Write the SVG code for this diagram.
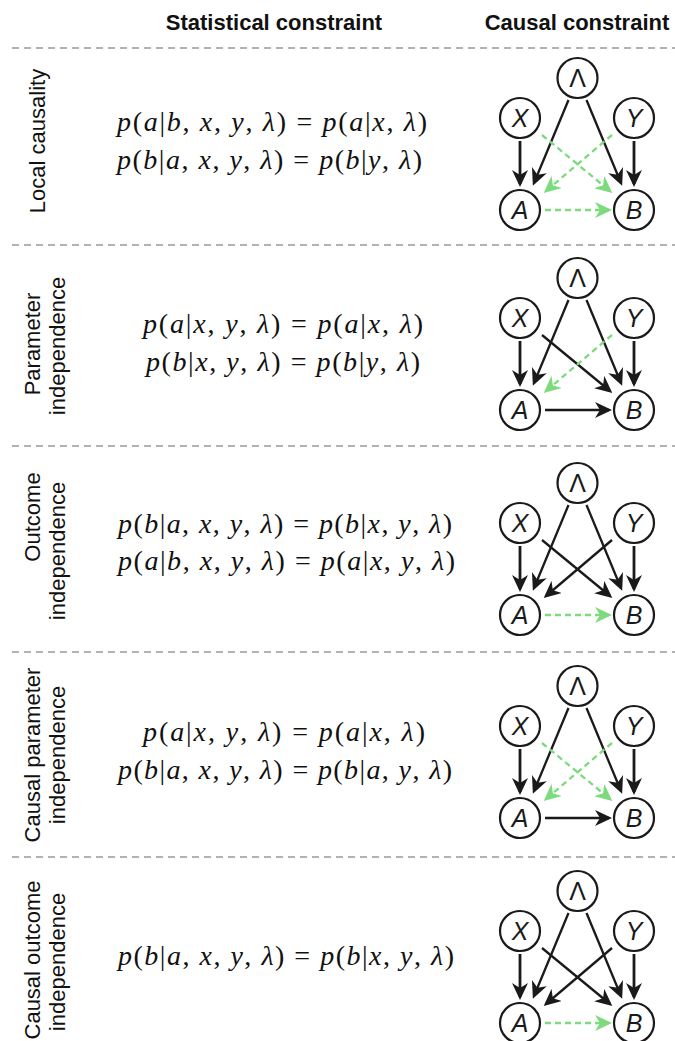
<svg xmlns="http://www.w3.org/2000/svg" width="675" height="1041" viewBox="0 0 675 1041">
<style>
.hd{font-family:"Liberation Sans",Arial,sans-serif;font-weight:bold;font-size:22px;fill:#111;text-anchor:middle}
.lb{font-family:"Liberation Sans",Arial,sans-serif;font-size:22px;fill:#111;text-anchor:middle}
.eq{font-family:"Liberation Serif","Times New Roman",serif;font-size:28px;fill:#111}
.v{font-style:italic}
.sep{stroke:#999;stroke-width:1.3;stroke-dasharray:7 5;fill:none}
.nd circle{fill:#fff;stroke:#1a1a1a;stroke-width:2.2}
.nd text{font-family:"Liberation Sans",Arial,sans-serif;font-size:25px;font-style:italic;fill:#1a1a1a;text-anchor:middle}
.nd text.up{font-style:normal}
.k{stroke:#1a1a1a;stroke-width:2.3;fill:none;marker-end:url(#ak)}
.kv{stroke:#1a1a1a;stroke-width:2.8;fill:none;marker-end:url(#ak)}
.g{stroke:#7ddb7d;stroke-width:2.3;fill:none;stroke-dasharray:6 4;marker-end:url(#ag)}
</style>
<defs>
<marker id="ak" markerUnits="userSpaceOnUse" viewBox="0 0 18 16" markerWidth="18" markerHeight="16" refX="14" refY="8" orient="auto"><path d="M0,0 L17,8 L0,16 L5,8 z" fill="#1a1a1a"/></marker>
<marker id="ag" markerUnits="userSpaceOnUse" viewBox="0 0 18 16" markerWidth="18" markerHeight="16" refX="14" refY="8" orient="auto"><path d="M0,0 L17,8 L0,16 L5,8 z" fill="#7ddb7d"/></marker>
</defs>
<rect width="675" height="1041" fill="#fff"/>

<g id="headers">
<text class="hd" x="274" y="30">Statistical constraint</text>
<text class="hd" x="577" y="30">Causal constraint</text>
</g>

<g id="separators">
<line class="sep" x1="12" y1="48" x2="675" y2="48"/>
<line class="sep" x1="12" y1="245" x2="675" y2="245"/>
<line class="sep" x1="12" y1="446" x2="675" y2="446"/>
<line class="sep" x1="12" y1="652" x2="675" y2="652"/>
<line class="sep" x1="12" y1="857" x2="675" y2="857"/>
</g>

<g id="row-labels">
<text class="lb" transform="translate(45,141) rotate(-90)">Local causality</text>
<text class="lb" transform="translate(40,344) rotate(-90)">Parameter</text>
<text class="lb" transform="translate(65,346) rotate(-90)">independence</text>
<text class="lb" transform="translate(40,517) rotate(-90)">Outcome</text>
<text class="lb" transform="translate(65,551) rotate(-90)">independence</text>
<text class="lb" transform="translate(40,755) rotate(-90)">Causal parameter</text>
<text class="lb" transform="translate(65,755) rotate(-90)">independence</text>
<text class="lb" transform="translate(40,960) rotate(-90)">Causal outcome</text>
<text class="lb" transform="translate(65,962) rotate(-90)">independence</text>
</g>

<g id="equations">
<text class="eq" x="117" y="131" textLength="310" lengthAdjust="spacing"><tspan class="v">p</tspan>(<tspan class="v">a</tspan>|<tspan class="v">b</tspan>, <tspan class="v">x</tspan>, <tspan class="v">y</tspan>, <tspan class="v">λ</tspan>) = <tspan class="v">p</tspan>(<tspan class="v">a</tspan>|<tspan class="v">x</tspan>, <tspan class="v">λ</tspan>)</text>
<text class="eq" x="117" y="169" textLength="305" lengthAdjust="spacing"><tspan class="v">p</tspan>(<tspan class="v">b</tspan>|<tspan class="v">a</tspan>, <tspan class="v">x</tspan>, <tspan class="v">y</tspan>, <tspan class="v">λ</tspan>) = <tspan class="v">p</tspan>(<tspan class="v">b</tspan>|<tspan class="v">y</tspan>, <tspan class="v">λ</tspan>)</text>

<text class="eq" x="143" y="333" textLength="280" lengthAdjust="spacing"><tspan class="v">p</tspan>(<tspan class="v">a</tspan>|<tspan class="v">x</tspan>, <tspan class="v">y</tspan>, <tspan class="v">λ</tspan>) = <tspan class="v">p</tspan>(<tspan class="v">a</tspan>|<tspan class="v">x</tspan>, <tspan class="v">λ</tspan>)</text>
<text class="eq" x="146" y="371" textLength="274" lengthAdjust="spacing"><tspan class="v">p</tspan>(<tspan class="v">b</tspan>|<tspan class="v">x</tspan>, <tspan class="v">y</tspan>, <tspan class="v">λ</tspan>) = <tspan class="v">p</tspan>(<tspan class="v">b</tspan>|<tspan class="v">y</tspan>, <tspan class="v">λ</tspan>)</text>

<text class="eq" x="118" y="533" textLength="334" lengthAdjust="spacing"><tspan class="v">p</tspan>(<tspan class="v">b</tspan>|<tspan class="v">a</tspan>, <tspan class="v">x</tspan>, <tspan class="v">y</tspan>, <tspan class="v">λ</tspan>) = <tspan class="v">p</tspan>(<tspan class="v">b</tspan>|<tspan class="v">x</tspan>, <tspan class="v">y</tspan>, <tspan class="v">λ</tspan>)</text>
<text class="eq" x="118" y="570" textLength="337" lengthAdjust="spacing"><tspan class="v">p</tspan>(<tspan class="v">a</tspan>|<tspan class="v">b</tspan>, <tspan class="v">x</tspan>, <tspan class="v">y</tspan>, <tspan class="v">λ</tspan>) = <tspan class="v">p</tspan>(<tspan class="v">a</tspan>|<tspan class="v">x</tspan>, <tspan class="v">y</tspan>, <tspan class="v">λ</tspan>)</text>

<text class="eq" x="143" y="741" textLength="282" lengthAdjust="spacing"><tspan class="v">p</tspan>(<tspan class="v">a</tspan>|<tspan class="v">x</tspan>, <tspan class="v">y</tspan>, <tspan class="v">λ</tspan>) = <tspan class="v">p</tspan>(<tspan class="v">a</tspan>|<tspan class="v">x</tspan>, <tspan class="v">λ</tspan>)</text>
<text class="eq" x="118" y="779" textLength="334" lengthAdjust="spacing"><tspan class="v">p</tspan>(<tspan class="v">b</tspan>|<tspan class="v">a</tspan>, <tspan class="v">x</tspan>, <tspan class="v">y</tspan>, <tspan class="v">λ</tspan>) = <tspan class="v">p</tspan>(<tspan class="v">b</tspan>|<tspan class="v">a</tspan>, <tspan class="v">y</tspan>, <tspan class="v">λ</tspan>)</text>

<text class="eq" x="118" y="965" textLength="336" lengthAdjust="spacing"><tspan class="v">p</tspan>(<tspan class="v">b</tspan>|<tspan class="v">a</tspan>, <tspan class="v">x</tspan>, <tspan class="v">y</tspan>, <tspan class="v">λ</tspan>) = <tspan class="v">p</tspan>(<tspan class="v">b</tspan>|<tspan class="v">x</tspan>, <tspan class="v">y</tspan>, <tspan class="v">λ</tspan>)</text>
</g>

<g id="connectors">
<g transform="translate(0,0)">
<path class="k" d="M568.5,100 L534,183"/><path class="k" d="M586.5,100 L621,183"/>
<path class="kv" d="M520,141 L520,184"/><path class="kv" d="M634,141 L634,184"/>
<path class="g" d="M542,135 L610,191"/><path class="g" d="M612,135 L546,191"/>
<path class="g" d="M545,210 L609,210"/>
</g>
<g transform="translate(0,200)">
<path class="k" d="M568.5,100 L534,183"/><path class="k" d="M586.5,100 L621,183"/>
<path class="kv" d="M520,141 L520,184"/><path class="kv" d="M634,141 L634,184"/>
<path class="k" d="M542,135 L610,191"/><path class="g" d="M612,135 L546,191"/>
<path class="k" d="M545,210 L609,210"/>
</g>
<g transform="translate(0,405)">
<path class="k" d="M568.5,100 L534,183"/><path class="k" d="M586.5,100 L621,183"/>
<path class="kv" d="M520,141 L520,184"/><path class="kv" d="M634,141 L634,184"/>
<path class="k" d="M542,135 L610,191"/><path class="k" d="M612,135 L546,191"/>
<path class="g" d="M545,210 L609,210"/>
</g>
<g transform="translate(0,608)">
<path class="k" d="M568.5,100 L534,183"/><path class="k" d="M586.5,100 L621,183"/>
<path class="kv" d="M520,141 L520,184"/><path class="kv" d="M634,141 L634,184"/>
<path class="g" d="M542,135 L610,191"/><path class="g" d="M612,135 L546,191"/>
<path class="k" d="M545,210 L609,210"/>
</g>
<g transform="translate(0,813)">
<path class="k" d="M568.5,100 L534,183"/><path class="k" d="M586.5,100 L621,183"/>
<path class="kv" d="M520,141 L520,184"/><path class="kv" d="M634,141 L634,184"/>
<path class="k" d="M542,135 L610,191"/><path class="k" d="M612,135 L546,191"/>
<path class="g" d="M545,210 L609,210"/>
</g>
</g>

<g id="nodes-row1" class="nd">
<g id="r1-Lambda"><circle cx="577.5" cy="78" r="20"/><text class="up" x="577.5" y="87">Λ</text></g>
<g id="r1-X"><circle cx="520" cy="118" r="20"/><text x="520" y="127">X</text></g>
<g id="r1-Y"><circle cx="634" cy="118" r="20"/><text x="634" y="127">Y</text></g>
<g id="r1-A"><circle cx="520" cy="210" r="20"/><text x="520" y="219">A</text></g>
<g id="r1-B"><circle cx="634" cy="210" r="20"/><text x="634" y="219">B</text></g>
</g>
<g id="nodes-row2" class="nd" transform="translate(0,200)">
<g id="r2-Lambda"><circle cx="577.5" cy="78" r="20"/><text class="up" x="577.5" y="87">Λ</text></g>
<g id="r2-X"><circle cx="520" cy="118" r="20"/><text x="520" y="127">X</text></g>
<g id="r2-Y"><circle cx="634" cy="118" r="20"/><text x="634" y="127">Y</text></g>
<g id="r2-A"><circle cx="520" cy="210" r="20"/><text x="520" y="219">A</text></g>
<g id="r2-B"><circle cx="634" cy="210" r="20"/><text x="634" y="219">B</text></g>
</g>
<g id="nodes-row3" class="nd" transform="translate(0,405)">
<g id="r3-Lambda"><circle cx="577.5" cy="78" r="20"/><text class="up" x="577.5" y="87">Λ</text></g>
<g id="r3-X"><circle cx="520" cy="118" r="20"/><text x="520" y="127">X</text></g>
<g id="r3-Y"><circle cx="634" cy="118" r="20"/><text x="634" y="127">Y</text></g>
<g id="r3-A"><circle cx="520" cy="210" r="20"/><text x="520" y="219">A</text></g>
<g id="r3-B"><circle cx="634" cy="210" r="20"/><text x="634" y="219">B</text></g>
</g>
<g id="nodes-row4" class="nd" transform="translate(0,608)">
<g id="r4-Lambda"><circle cx="577.5" cy="78" r="20"/><text class="up" x="577.5" y="87">Λ</text></g>
<g id="r4-X"><circle cx="520" cy="118" r="20"/><text x="520" y="127">X</text></g>
<g id="r4-Y"><circle cx="634" cy="118" r="20"/><text x="634" y="127">Y</text></g>
<g id="r4-A"><circle cx="520" cy="210" r="20"/><text x="520" y="219">A</text></g>
<g id="r4-B"><circle cx="634" cy="210" r="20"/><text x="634" y="219">B</text></g>
</g>
<g id="nodes-row5" class="nd" transform="translate(0,813)">
<g id="r5-Lambda"><circle cx="577.5" cy="78" r="20"/><text class="up" x="577.5" y="87">Λ</text></g>
<g id="r5-X"><circle cx="520" cy="118" r="20"/><text x="520" y="127">X</text></g>
<g id="r5-Y"><circle cx="634" cy="118" r="20"/><text x="634" y="127">Y</text></g>
<g id="r5-A"><circle cx="520" cy="210" r="20"/><text x="520" y="219">A</text></g>
<g id="r5-B"><circle cx="634" cy="210" r="20"/><text x="634" y="219">B</text></g>
</g>
</svg>
